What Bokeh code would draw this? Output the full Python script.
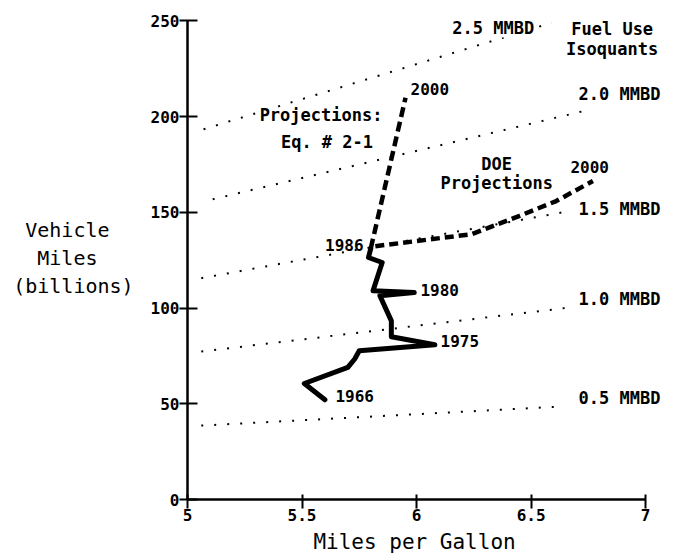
from bokeh.plotting import figure
from bokeh.models import Range1d, FixedTicker, Label, ColumnDataSource
from bokeh.embed import file_html
from bokeh.resources import INLINE

# ---- data ----
# historical path 1966-1986 (miles per gallon, vehicle miles in billions)
mpg_hist = [5.60, 5.51, 5.70, 5.73, 5.75, 6.08, 5.89, 5.89, 5.84, 5.99, 5.81, 5.85, 5.79, 5.80]
vmt_hist = [52.1, 60.6, 69.0, 73.4, 77.7, 80.8, 85.0, 93.3, 106.4, 108.1, 109.0, 123.8, 126.4, 131.1]

# projections by Eq. # 2-1 (1986 -> 2000)
mpg_eq = [5.80, 5.952]
vmt_eq = [131.1, 209.9]

# DOE projections (1986 -> 2000)
mpg_doe = [5.82, 6.24, 6.45, 6.61, 6.77]
vmt_doe = [132.3, 138.6, 148.2, 155.9, 166.4]

# fuel use isoquants (MMBD)
iso_levels = ["0.5 MMBD", "1.0 MMBD", "1.5 MMBD", "2.0 MMBD", "2.5 MMBD"]
iso_mpg_start = [5.06, 5.06, 5.06, 5.11, 5.07]
iso_vmt_start = [38.6, 77.3, 115.6, 156.8, 193.4]
iso_mpg_end = [6.62, 6.67, 6.67, 6.73, 6.59]
iso_vmt_end = [48.5, 100.3, 150.7, 202.9, 249.0]

x_ticks = [5, 5.5, 6, 6.5, 7]
x_tick_labels = ["5", "5.5", "6", "6.5", "7"]
y_ticks = [0, 50, 100, 150, 200, 250]

FONT = "DejaVu Sans Mono"
NB = "\u00a0"

p = figure(width=679, height=557, output_backend="svg", toolbar_location=None,
           x_range=Range1d(5, 7.148), y_range=Range1d(0, 252.3),
           min_border_left=187, min_border_right=0, min_border_top=16, min_border_bottom=58)
p.outline_line_color = None
p.xgrid.visible = False
p.ygrid.visible = False
p.background_fill_color = "white"
p.border_fill_color = "white"

# axes
p.xaxis.ticker = FixedTicker(ticks=x_ticks)
p.xaxis.major_label_overrides = {t: l for t, l in zip(x_ticks, x_tick_labels)}
p.xaxis.bounds = (5, 7)
p.yaxis.ticker = FixedTicker(ticks=y_ticks)
p.yaxis.bounds = (0, 250)
for ax in (p.xaxis, p.yaxis):
    ax.axis_line_color = "black"
    ax.axis_line_width = 2.5
    ax.major_tick_line_color = "black"
    ax.major_tick_line_width = 2
    ax.minor_tick_line_color = None
    ax.major_label_text_font = FONT
    ax.major_label_text_font_size = "16px"
    ax.major_label_text_font_style = "bold"
    ax.major_label_text_color = "black"
    ax.major_label_standoff = 0
    ax.axis_label_text_font = FONT
    ax.axis_label_text_font_style = "normal"
    ax.axis_label_text_color = "black"
p.xaxis.major_tick_in = 5
p.xaxis.major_tick_out = 9
p.yaxis.major_tick_in = 10
p.yaxis.major_tick_out = 8
p.xaxis.axis_label = "Miles per Gallon" + NB * 3
p.xaxis.axis_label_text_font_size = "21px"
p.xaxis.axis_label_standoff = 6
p.yaxis.axis_label = "Vehicle" + NB * 2 + "\nMiles" + NB * 3 + "\n(billions)"
p.yaxis.axis_label_text_font_size = "20px"
p.yaxis.axis_label_orientation = "horizontal"
p.yaxis.axis_label_standoff = 14
p.yaxis.axis_label_text_line_height = 1.15

# isoquants (dotted)
iso_src = ColumnDataSource(dict(x0=iso_mpg_start, y0=iso_vmt_start, x1=iso_mpg_end, y1=iso_vmt_end))
p.segment(x0="x0", y0="y0", x1="x1", y1="y1", source=iso_src,
          line_color="black", line_width=2, line_dash="2 11")

# historical
p.line(mpg_hist, vmt_hist, line_color="black", line_width=5, line_join="round", line_cap="round")
# projections
p.line(mpg_eq, vmt_eq, line_color="black", line_width=4.5, line_dash="10 5")
p.line(mpg_doe, vmt_doe, line_color="black", line_width=4.5, line_dash="9 5")


def lab(text, x, y, align="left", size="17px", style="bold", bg=None):
    p.add_layout(Label(x=x, y=y, text=text, text_align=align, text_baseline="middle",
                       text_font=FONT, text_font_size=size, text_font_style=style,
                       text_color="black", background_fill_color=bg))


# isoquant labels
lab(iso_levels[4], 6.156, 246.5, bg="white")
lab(iso_levels[3], 6.707, 212.0)
lab(iso_levels[2], 6.707, 152.0)
lab(iso_levels[1], 6.707, 104.8)
lab(iso_levels[0], 6.707, 53.2)
lab("Fuel Use", 6.854, 246.0, align="center")
lab("Isoquants", 6.854, 235.5, align="center")

# projection labels
lab("Projections:", 5.583, 200.8, align="center")
lab("Eq. # 2-1", 5.609, 186.7, align="center")
lab("DOE", 6.35, 175.1, align="center")
lab("Projections", 6.35, 165.5, align="center")
lab("2000", 5.974, 214.2, size="16px")
lab("2000", 6.672, 173.8, size="16px")

# year labels
lab("1986", 5.769, 132.7, align="right", size="16px")
lab("1980", 6.017, 109.5, size="16px")
lab("1975", 6.105, 82.9, size="16px")
lab("1966", 5.646, 53.9, size="16px")

open("out.html", "w").write(file_html(p, INLINE))
